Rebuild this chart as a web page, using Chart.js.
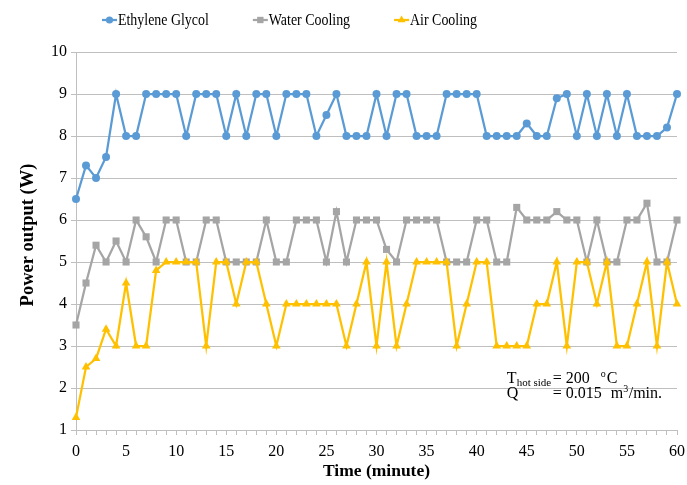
<!DOCTYPE html>
<html>
<head>
<meta charset="utf-8">
<script src="https://cdn.jsdelivr.net/npm/chart.js@4.4.1/dist/chart.umd.min.js"></script>
<style>
  html, body { margin: 0; padding: 0; background: #ffffff; }
  #wrap { width: 687px; height: 485px; position: relative; }
</style>
</head>
<body>
<div id="wrap"><canvas id="chart" width="687" height="485"></canvas></div>
<script>
// Time axis (minutes)
const minutes = [0,1,2,3,4,5,6,7,8,9,10,11,12,13,14,15,16,17,18,19,20,
  21,22,23,24,25,26,27,28,29,30,31,32,33,34,35,36,37,38,39,40,
  41,42,43,44,45,46,47,48,49,50,51,52,53,54,55,56,57,58,59,60];

// Power output (W) for each cooling method
const ethyleneGlycol = [6.5,7.3,7.0,7.5,9,8,8,9,9,9,9,8,9,9,9,8,9,8,9,9,8,
  9,9,9,8,8.5,9,8,8,8,9,8,9,9,8,8,8,9,9,9,9,
  8,8,8,8,8.3,8,8,8.9,9,8,9,8,9,8,9,8,8,8,8.2,9];
const waterCooling = [3.5,4.5,5.4,5,5.5,5,6,5.6,5,6,6,5,5,6,6,5,5,5,5,6,5,
  5,6,6,6,5,6.2,5,6,6,6,5.3,5,6,6,6,6,5,5,5,6,
  6,5,5,6.3,6,6,6,6.2,6,6,5,6,5,5,6,6,6.4,5,5,6];
const airCooling = [1.3,2.5,2.7,3.4,3,4.5,3,3,4.8,5,5,5,5,3,5,5,4,5,5,4,3,
  4,4,4,4,4,4,3,4,5,3,5,3,4,5,5,5,5,3,4,5,
  5,3,3,3,3,4,4,5,3,5,5,4,5,3,3,4,5,3,5,4];

const seriesNames = ['Ethylene Glycol', 'Water Cooling', 'Air Cooling'];
const yTicks = [1,2,3,4,5,6,7,8,9,10];
const xLabelEvery = 5;
const yTitle = 'Power output (W)';

const SERIF = '"Liberation Serif", "Times New Roman", serif';
const BLUE = '#5B9BD5', GREY = '#A5A5A5', GOLD = '#FFC000';
const GRID = '#BFBFBF';

function toPoints(values) {
  return values.map((v, i) => ({ x: minutes[i], y: v }));
}

const styles = [
  { color: BLUE, pointStyle: 'circle', radius: 4 },
  { color: GREY, pointStyle: 'rect', radius: 5 },
  { color: GOLD, pointStyle: 'triangle', radius: 5 }
];
const seriesValues = [ethyleneGlycol, waterCooling, airCooling];

const datasets = seriesValues.map((vals, i) => ({
  label: seriesNames[i],
  data: toPoints(vals),
  borderColor: styles[i].color,
  backgroundColor: styles[i].color,
  pointBackgroundColor: styles[i].color,
  pointBorderColor: styles[i].color,
  pointStyle: styles[i].pointStyle,
  pointRadius: styles[i].radius,
  pointBorderWidth: 0,
  borderWidth: 2.25,
  tension: 0,
  clip: false,
  order: 3 - i
}));

// Legend: short line with the series marker, followed by the name
const lineLegend = {
  id: 'lineLegend',
  afterDraw(chart) {
    const ctx = chart.ctx;
    const squeeze = 0.87;
    ctx.save();
    ctx.font = '16px ' + SERIF;
    ctx.textBaseline = 'middle';
    ctx.textAlign = 'left';
    let x = 102;
    const y = 20;
    datasets.forEach((ds) => {
      ctx.strokeStyle = ds.borderColor;
      ctx.lineWidth = 2.25;
      ctx.beginPath();
      ctx.moveTo(x, y);
      ctx.lineTo(x + 15, y);
      ctx.stroke();
      ctx.fillStyle = ds.borderColor;
      Chart.helpers.drawPoint(ctx, {
        pointStyle: ds.pointStyle, radius: ds.pointRadius * 0.9, borderWidth: 0
      }, x + 7.5, y);
      ctx.fillStyle = '#000';
      const w = ctx.measureText(ds.label).width * squeeze;
      ctx.save();
      ctx.translate(x + 16, y + 1);
      ctx.scale(squeeze, 1);
      ctx.fillText(ds.label, 0, 0);
      ctx.restore();
      x += 16 + w + 44;
    });
    ctx.restore();
  }
};

// Vertical axis title, set beside the tick labels
const sideTitle = {
  id: 'sideTitle',
  afterDraw(chart) {
    const ctx = chart.ctx;
    const area = chart.chartArea;
    ctx.save();
    ctx.translate(28, (area.top + area.bottom) / 2 - 6);
    ctx.rotate(-Math.PI / 2);
    ctx.font = 'bold 18.5px ' + SERIF;
    ctx.fillStyle = '#000';
    ctx.textAlign = 'center';
    ctx.textBaseline = 'middle';
    ctx.fillText(yTitle, 0, 0);
    ctx.restore();
  }
};

// Test conditions written inside the plot
const conditions = {
  id: 'conditions',
  afterDraw(chart) {
    const ctx = chart.ctx;
    const xs = chart.scales.x, ys = chart.scales.y;
    const x0 = xs.getPixelForValue(43);
    const y1 = ys.getPixelForValue(2.12);
    const y2 = ys.getPixelForValue(1.77);
    ctx.save();
    ctx.fillStyle = '#000';
    ctx.textBaseline = 'alphabetic';
    ctx.textAlign = 'left';
    ctx.font = '16px ' + SERIF;
    ctx.fillText('T', x0, y1);
    ctx.font = '11px ' + SERIF;
    ctx.fillText('hot side', x0 + 10, y1 + 3);
    ctx.font = '16px ' + SERIF;
    ctx.fillText('= 200', x0 + 46, y1);
    ctx.font = '10px ' + SERIF;
    ctx.fillText('o', x0 + 94, y1 - 6);
    ctx.font = '16px ' + SERIF;
    ctx.fillText('C', x0 + 100, y1);
    ctx.fillText('Q', x0, y2);
    ctx.fillText('= 0.015', x0 + 46, y2);
    ctx.fillText('m', x0 + 104, y2);
    ctx.font = '10px ' + SERIF;
    ctx.fillText('3', x0 + 116.5, y2 - 6);
    ctx.font = '16px ' + SERIF;
    ctx.fillText('/min.', x0 + 122, y2);
    ctx.restore();
  }
};

new Chart(document.getElementById('chart'), {
  type: 'line',
  data: { datasets },
  options: {
    responsive: false,
    animation: false,
    devicePixelRatio: 1,
    layout: { padding: { left: 14, right: 10, top: 52, bottom: 0 } },
    plugins: {
      legend: { display: false },
      tooltip: { enabled: false }
    },
    scales: {
      x: {
        type: 'linear',
        min: minutes[0],
        max: minutes[minutes.length - 1],
        afterBuildTicks(scale) {
          scale.ticks = minutes.map(v => ({ value: v }));
        },
        afterFit(scale) {
          scale.height = 55;
          scale.paddingRight = 8;
        },
        grid: {
          drawOnChartArea: false,
          drawTicks: true,
          tickLength: 5,
          color: GRID,
          lineWidth: 1
        },
        border: { color: GRID, width: 1 },
        ticks: {
          autoSkip: false,
          maxRotation: 0,
          padding: 7,
          color: '#000',
          font: { family: SERIF, size: 16 },
          callback: v => (v % xLabelEvery === 0 ? String(v) : '')
        },
        title: {
          display: true,
          text: 'Time (minute)',
          color: '#000',
          font: { family: SERIF, size: 17.5, weight: 'bold' },
          padding: { top: 0, bottom: 3 }
        }
      },
      y: {
        min: yTicks[0],
        max: yTicks[yTicks.length - 1],
        afterBuildTicks(scale) {
          scale.ticks = yTicks.map(v => ({ value: v }));
        },
        afterFit(scale) { scale.width = 62; },
        grid: {
          color: GRID,
          lineWidth: 1,
          drawTicks: true,
          tickLength: 5
        },
        border: { color: GRID, width: 1 },
        ticks: {
          padding: 4,
          color: '#000',
          font: { family: SERIF, size: 16 }
        },
        title: { display: false }
      }
    }
  },
  plugins: [lineLegend, sideTitle, conditions]
});
</script>
</body>
</html>
